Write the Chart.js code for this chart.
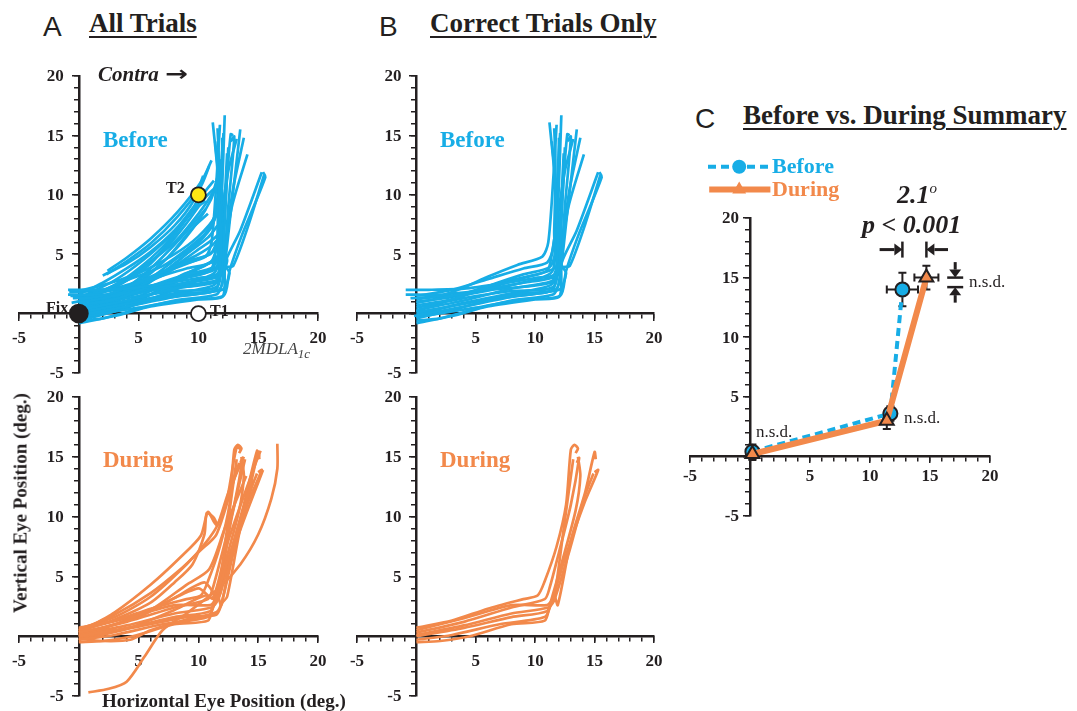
<!DOCTYPE html>
<html>
<head>
<meta charset="utf-8">
<script src="https://cdn.jsdelivr.net/npm/chart.js@4.4.1/dist/chart.umd.min.js"></script>
<style>
  html, body { margin: 0; padding: 0; background: #fff; }
  #fig { position: relative; width: 1077px; height: 711px; overflow: hidden; }
  canvas { position: absolute; }
  .t { position: absolute; white-space: nowrap; line-height: 1; color: #231f20;
       font-family: "Liberation Serif", "Times New Roman", serif; font-weight: bold; }
  .letter { font-family: "Liberation Sans", Arial, sans-serif; font-weight: normal; font-size: 28px; }
  .title { font-size: 27px; text-decoration: underline; text-decoration-thickness: 2px; text-underline-offset: 4px; }
  .blue { color: #17ade6; }
  .orange { color: #f2894b; }
  .nsd { font-weight: normal; font-size: 17px; }
</style>
</head>
<body>
<div id="fig">
  <canvas id="aTop"></canvas>
  <canvas id="aBot"></canvas>
  <canvas id="bTop"></canvas>
  <canvas id="bBot"></canvas>
  <canvas id="cSum"></canvas>

  <div class="t letter" style="left:43px;top:13px">A</div>
  <div class="t title" style="left:89px;top:10px">All Trials</div>
  <div class="t letter" style="left:379px;top:13px">B</div>
  <div class="t title" style="left:430px;top:10px">Correct Trials Only</div>
  <div class="t letter" style="left:695px;top:105px">C</div>
  <div class="t title" style="left:743px;top:102px">Before vs. During Summary</div>

  <div class="t" style="left:98px;top:64px;font-size:21px;font-style:italic">Contra <span style="font-family:'DejaVu Sans',sans-serif;font-style:normal;display:inline-block;transform:scaleX(1.3);margin-left:4px">→</span></div>
  <div class="t blue" style="left:103px;top:128px;font-size:23px">Before</div>
  <div class="t blue" style="left:440px;top:128px;font-size:23px">Before</div>
  <div class="t orange" style="left:103px;top:448px;font-size:23px">During</div>
  <div class="t orange" style="left:440px;top:448px;font-size:23px">During</div>
  <div class="t" style="left:166px;top:180px;font-size:16px">T2</div>
  <div class="t" style="left:210px;top:303px;font-size:16px">T1</div>
  <div class="t" style="left:46px;top:300px;font-size:16px">Fix</div>
  <div class="t" style="left:243px;top:340px;font-size:17px;font-weight:normal;font-style:italic;color:#444">2MDLA<sub style="font-size:13px">1c</sub></div>
  <div class="t" style="left:20px;top:503px;font-size:19px;transform:translate(-50%,-50%) rotate(-90deg)">Vertical Eye Position (deg.)</div>
  <div class="t" style="left:102px;top:691px;font-size:19px">Horizontal Eye Position (deg.)</div>

  <div class="t blue" style="left:772px;top:155px;font-size:22px">Before</div>
  <div class="t orange" style="left:772px;top:178px;font-size:22px">During</div>
  <div class="t" style="left:897px;top:181px;font-size:26px;font-style:italic">2.1<sup style="font-size:15px;font-weight:normal">o</sup></div>
  <div class="t" style="left:862px;top:212px;font-size:26px;font-style:italic">p &lt; 0.001</div>
  <div class="t nsd" style="left:969px;top:273px">n.s.d.</div>
  <div class="t nsd" style="left:904px;top:409px">n.s.d.</div>
  <div class="t nsd" style="left:756px;top:423px">n.s.d.</div>
</div>

<script>
// eye traces, [horizontal, vertical] in degrees

// before inactivation, correct trials (shown in A and B)
const beforeCorrect = [
  [[-0.9,2.0],[1,2.0],[4,2.1],[7,2.5],[10,3.0],[11.6,3.3],[11.9,6],[11.6,12],[11.2,16.1]],
  [[0,1.2],[2,1.5],[4,2.2],[6,3.1],[8.5,4.1],[10.6,4.8],[11.1,6.0],[11.5,11],[11.8,15.9]],
  [[0,0.7],[3,1.2],[6,2.3],[9,3.3],[11.2,3.9],[11.7,5.2],[12.0,11],[12.2,16.7]],
  [[0,0.3],[4,1.1],[8,2.1],[11.5,2.8],[12.0,4.2],[12.3,10],[12.7,15.1],[12.9,15.0]],
  [[-0.2,-0.2],[4,0.6],[8,1.4],[11.7,2.0],[12.1,3.2],[12.5,9],[13.0,14.9],[12.7,14.5]],
  [[0,-0.6],[2,-0.4],[5,0.4],[8,1.1],[11.5,1.6],[12.0,2.6],[12.7,8.5],[13.5,15.5]],
  [[0,0.9],[5,1.9],[9,2.6],[11.8,3.2],[12.1,5],[12.9,10.5],[13.8,14.8]],
  [[-0.9,1.6],[2,1.6],[6,2.0],[11.3,2.6],[11.9,3.7],[12.8,9],[14.1,13.4]],
  [[0,0.1],[5,1.0],[9,1.7],[12.0,2.0],[12.6,3.4],[12.2,4.2],[13.5,7],[15.3,11.9]],
  [[0,-0.3],[5,0.5],[9,1.2],[12.1,1.5],[12.6,3.6],[13.6,6.5],[15.6,11.5],[15.4,11.9]],
  [[0,0.5],[4,1.3],[8,1.9],[11.6,2.3],[11.8,6],[11.9,12],[12.1,15.2]],
  [[0,-0.8],[3,-0.2],[6,0.6],[10,1.2],[12.0,1.4],[12.2,3],[12.0,8],[11.4,14.5]],
  [[-0.5,1.3],[4,1.6],[8,2.4],[11.4,3.5],[11.6,7],[11.7,13],[11.6,15.6]],
  [[0,0.2],[4,1.5],[9,3.0],[11.0,3.6],[11.4,5],[12.5,12],[13.2,14.7]],
  [[0,1.0],[3,1.4],[7,2.6],[10.5,3.4],[11.8,4.0],[12.2,8],[12.5,14]],
  [[0,-0.4],[3,0.3],[7,1.3],[11.0,1.8],[11.6,2.2],[12.0,6],[12.4,13.5]],
  [[0,1.5],[3,2.0],[6,2.9],[9,3.8],[11.0,4.3],[11.5,5.5],[11.9,10],[12.0,14.8]],
  [[0,-0.1],[4,0.9],[8,1.7],[11.3,2.4],[12.3,3.9],[12.9,4.0],[14.2,7.5],[15.5,11.7]]
];

// before inactivation, error trials (A only)
const beforeError = [
  [[2.4,3.6],[4,4.7],[6,6.3],[8.3,8.6],[10.3,11.2],[11.1,12.9]],
  [[2.3,3.3],[4,4.4],[6,5.9],[8.2,8.1],[10.2,10.7],[10.9,12.4]],
  [[0,1.0],[3,2.4],[5,3.8],[7,5.6],[9,8.0],[10.5,10.2],[11.3,11.2]],
  [[0,0.8],[3,1.8],[6,3.5],[8,5.3],[10,7.8],[11.0,9.5],[11.5,10.8]],
  [[0,0.4],[3,1.4],[6,2.8],[8.5,4.6],[10.5,6.6],[11.5,8.5],[12,10.2]],
  [[-0.8,1.8],[2,2.0],[4,2.8],[7,4.0],[9.5,5.8],[11,7.2],[11.8,9]],
  [[0,0.6],[4,1.9],[7,3.2],[9,4.4],[11,5.0],[11.7,6.4]],
  [[0,0],[4,1.0],[7,2.4],[9.5,3.6],[11.4,4.6],[12.3,6]],
  [[0,1.2],[3,2.2],[6,4.2],[8,6.6],[9.5,8.6],[10.6,9.5]],
  [[0,0.2],[2,1.0],[5,2.6],[7.5,4.8],[9.5,7.2],[10.8,8.4]],
  [[0,-0.3],[4,0.8],[8,2.6],[10,3.8],[11.5,4.4],[12.2,3.6]],
  [[0,1.4],[4,2.4],[8,3.8],[10.5,4.8],[11.8,5.6]],
  [[0,0.1],[5,1.3],[9,2.5],[11.5,3.3],[12.3,4.0]],
  [[-0.7,1.5],[2,1.5],[5,2.0],[9,2.4],[11.8,2.8]],
  [[0,0.5],[3,1.6],[6,3.0],[8,4.5],[10,6.0],[11.2,7.5],[11.6,9.8],[11.8,13]],
  [[0,0.9],[4,2.8],[7,5.2],[9,7.6],[10.6,9.8],[11.4,10.6]],
  [[0,-0.5],[4,0.5],[8,2.0],[10.5,3.0],[12.0,3.4],[12.4,4.4],[12.3,5]],
  [[0,0.3],[4,1.7],[8,4.0],[10,5.4],[11.6,6.6],[12,8]],
  [[0,1.6],[2,2.6],[4,3.8],[6,5.2],[8,7.0],[9.6,9.0],[10.2,10.0]],
  [[0,1.1],[2,1.9],[4,3.0],[6,4.4],[8,6.0],[10,8.4],[11.2,10.2],[11.6,11.5]],
  [[0,0.2],[3,1.0],[5,2.0],[7,3.4],[9,5.0],[10.8,6.4],[11.6,7.4]],
  [[-0.6,0.9],[3,1.7],[6,3.0],[8,4.0],[10,5.0],[11.2,5.8],[12.1,6.8]],
  [[0,-0.6],[3,0.2],[6,1.6],[8.5,3.2],[10.5,4.0],[11.9,4.9]],
  [[0,0.6],[3,1.2],[6,2.0],[8,2.9],[10,3.4],[11.5,3.9],[12.4,4.6]],
  [[0,1.9],[2,2.4],[5,3.4],[8,5.0],[10,6.5],[11.4,8.2],[11.9,10.5]],
  [[0,0.3],[4,2.2],[6,3.8],[8,5.8],[9.6,7.6],[10.6,8.8]],
  [[2.0,3.2],[4,4.2],[6,5.6],[8,7.4],[9.6,9.5],[10.4,11.6]],
  [[0,1.3],[3,2.8],[5.5,4.6],[7.5,6.4],[9.2,8.2],[10.2,9.4]]
];

// during inactivation, correct trials (A and B)
const duringCorrect = [
  [[0,0.7],[3,1.3],[6,2.3],[9,3.1],[10.2,3.4],[10.8,4.6],[11.8,7.5],[12.6,11],[13.0,15.6],[13.3,16.0],[13.6,15.7],[13.4,15.3]],
  [[0,0.3],[4,1.2],[8,2.4],[10.8,3.1],[11.2,4],[12,7],[13,11],[13.7,14.9],[13.5,14.5]],
  [[0,0],[4,0.7],[8,1.6],[11,2.1],[11.6,3.4],[11.9,2.6],[13,8],[14.2,12],[15.0,15.4],[15.1,14.8]],
  [[0,-0.3],[3,0.1],[7,1.0],[10.8,1.6],[11.3,2.6],[12.5,6.5],[14.2,11.3],[15.3,13.9],[15.0,13.7]],
  [[0,-0.5],[2,-0.4],[4.5,0],[8,1.0],[10.8,1.3],[11.2,2.5],[12.2,6],[13.4,10.5],[13.8,13.4],[13.6,15]],
  [[0,0.5],[4,1.5],[8,2.6],[11,2.6],[11.5,3.2],[11.8,4.5],[12.4,9],[13.2,14.8]],
  [[0,0.1],[4,0.9],[8,1.9],[11.1,2.4],[11.6,3.0],[12.9,7.2],[14.1,11.5],[14.9,13.6]]
];

// during inactivation, error trials (A only)
const duringError = [
  [[0.8,-4.7],[2.5,-4.4],[4.0,-3.8],[5.5,-1.7],[7.0,0.5],[9,1.9],[11.8,4.1],[13.5,6],[15,8.5],[16.1,11.5],[16.6,14],[16.6,16.1]],
  [[0,0.3],[3,2.0],[6,4.3],[8.5,6.6],[10.2,8.4],[10.8,10.4],[11.5,9.3],[12.3,11],[13.2,15.8],[13.6,15.6]],
  [[0,0.6],[3,1.6],[6,3.3],[9,6.0],[10.6,7.8],[11.6,9.3],[12.5,12],[13.8,15]],
  [[0,0],[3,1.0],[6,2.2],[9,4.3],[10.9,5.6],[12.2,9],[14.0,13.4]],
  [[0,0.2],[4,1.3],[7,2.7],[10,4.0],[11.2,3.2],[12.5,8],[14.8,14.5],[15.2,15.5]],
  [[0,-0.2],[2,-0.4],[4.3,-0.3],[6,0.5],[9,1.4],[11.5,2.0],[12,3.0],[13.2,8],[15.4,13.9]],
  [[0,0.4],[3,1.4],[6,2.8],[8,4.5],[9.5,6],[10.5,8.5],[10.7,10.3],[11.3,9.9],[11.6,9.2]],
  [[0,0.1],[5,1.6],[8,3.2],[10.5,4.5],[11.5,3.5],[12.8,10],[13.9,14.8]],
  [[0,-0.1],[5,0.8],[9,1.6],[11.5,1.8],[12.0,2.8],[12.4,3.3],[13.5,9],[14.6,13]],
  [[0,0.5],[3,1.8],[6,3.6],[8.5,5.6],[10.2,7.2],[11.5,8.5],[12.8,12.5],[13.4,14.5]],
  [[0,-0.3],[4,0.6],[8,2.2],[10.6,3.4],[11.6,3.0],[12.3,5.5],[13.8,11],[14.9,15.5],[15.1,15.0]]
];

// fixation and target spots in panel A
const fixSpot = [[0, 0]];
const t1Spot = [[10, 0]];
const t2Spot = [[10, 10]];

// panel C summary: mean endpoints with SEM
const beforeMeanX = [0.2, 11.7, 12.7];
const beforeMeanY = [0.4, 3.6, 14.0];
const beforeErrX = [0.2, 0.3, 1.3];
const beforeErrY = [0.6, 0.6, 1.4];
const duringMeanX = [0.2, 11.4, 14.7];
const duringMeanY = [0.2, 3.0, 15.0];
const duringErrX = [0.2, 0.3, 1.0];
const duringErrY = [0.5, 0.7, 1.0];

const INK = "#231f20";
const BLUE = "#17ade6";
const ORANGE = "#f2894b";
const SERIF = '"Liberation Serif", "Times New Roman", serif';

// ── shared cross-shaped axes ─────────────────────────────────────────

function crossAxes(xPad) {
  const fit = (s) => { if (s.isHorizontal()) s.height = 0; else s.width = 0; };
  const font = { family: SERIF, weight: "bold", size: 17 };
  const minor = (axis, pos) => ({
    type: "linear", axis, min: -5, max: 20, position: pos, afterFit: fit,
    ticks: { stepSize: 1, display: false },
    grid: { drawOnChartArea: false, tickLength: 4, color: INK, lineWidth: 1.5 },
    border: { display: true, color: INK, width: 2.5 },
  });
  const major = (axis, pos, showLabels) => ({
    type: "linear", axis, min: -5, max: 20, position: pos, afterFit: fit,
    ticks: {
      stepSize: 5, display: showLabels, color: INK, font, padding: xPad,
      callback: (v) => (v === 0 ? "" : v),
    },
    grid: { drawOnChartArea: false, tickLength: 7, color: INK, lineWidth: 1.5 },
    border: { display: false },
  });
  return {
    x: minor("x", { y: 0 }),
    y: minor("y", { x: 0 }),
    xMaj: major("x", { y: 0 }, true),
    // y labels are drawn by yTickLabels: Chart.js puts them on the axis line itself
    yMaj: major("y", { x: 0 }, false),
  };
}

const yTickLabels = {
  id: "yTickLabels",
  afterDraw(chart, args, opts) {
    const { ctx, scales } = chart;
    const axisX = scales.x.getPixelForValue(0);
    ctx.save();
    ctx.font = `bold 17px ${SERIF}`;
    ctx.fillStyle = INK;
    ctx.textAlign = "right";
    ctx.textBaseline = "middle";
    scales.yMaj.ticks.forEach((t) => {
      if (t.value === 0) return;
      ctx.fillText(String(t.value), axisX - opts.gap, scales.yMaj.getPixelForValue(t.value) + 1);
    });
    ctx.restore();
  },
};

function traceSets(list, color) {
  return list.map((pts) => ({
    data: pts,
    showLine: true,
    borderColor: color,
    borderWidth: 2.7,
    pointRadius: 0,
    tension: 0.25,
    fill: false,
  }));
}

function spot(pts, fillColor, r) {
  return {
    data: pts, showLine: false, pointRadius: r, pointBackgroundColor: fillColor,
    pointBorderColor: INK, pointBorderWidth: 1.8, order: -1,
  };
}

// place canvas so the plot area lands on the figure's axes box
function makePanel(id, box, pad, look, datasets, plugins) {
  const cv = document.getElementById(id);
  const w = box.R - box.L + pad.left + pad.right;
  const h = box.B - box.T + pad.top + pad.bottom;
  cv.width = w;
  cv.height = h;
  cv.style.left = box.L - pad.left + "px";
  cv.style.top = box.T - pad.top + "px";
  return new Chart(cv, {
    type: "scatter",
    data: { datasets },
    options: {
      responsive: false,
      animation: false,
      events: [],
      layout: { padding: pad },
      plugins: { legend: { display: false }, tooltip: { enabled: false }, yTickLabels: { gap: look.yGap } },
      scales: crossAxes(look.xPad),
    },
    plugins: [yTickLabels, ...(plugins || [])],
  });
}

const PAD = { left: 18, right: 18, top: 18, bottom: 18 };
const LOOK_AB = { xPad: 8, yGap: 15 };

makePanel("aTop", { L: 19, R: 318, T: 76, B: 373 }, PAD, LOOK_AB, [
  ...traceSets(beforeCorrect, BLUE),
  ...traceSets(beforeError, BLUE),
  spot(fixSpot, INK, 9),
  spot(t1Spot, "#ffffff", 7.5),
  spot(t2Spot, "#ffe714", 7.5),
]);
makePanel("aBot", { L: 19, R: 318, T: 397, B: 696 }, PAD, LOOK_AB, [
  ...traceSets(duringCorrect, ORANGE),
  ...traceSets(duringError, ORANGE),
]);
makePanel("bTop", { L: 357, R: 654, T: 76, B: 373 }, PAD, LOOK_AB, traceSets(beforeCorrect, BLUE));
makePanel("bBot", { L: 357, R: 654, T: 397, B: 696 }, PAD, LOOK_AB, traceSets(duringCorrect, ORANGE));

// ── panel C: error bars, arrows, legend samples ──────────────────────

function arrowWithBar(ctx, x1, y1, x2, y2) {
  const ang = Math.atan2(y2 - y1, x2 - x1);
  const head = 8;
  const hx = x2 - head * Math.cos(ang), hy = y2 - head * Math.sin(ang);
  ctx.save();
  ctx.strokeStyle = INK;
  ctx.fillStyle = INK;
  ctx.lineWidth = 3;
  ctx.beginPath();
  ctx.moveTo(x1, y1);
  ctx.lineTo(hx, hy);
  ctx.stroke();
  const nx = -Math.sin(ang), ny = Math.cos(ang);
  ctx.beginPath();
  ctx.moveTo(x2, y2);
  ctx.lineTo(hx + nx * 6, hy + ny * 6);
  ctx.lineTo(hx - nx * 6, hy - ny * 6);
  ctx.closePath();
  ctx.fill();
  ctx.lineWidth = 2.5;
  ctx.beginPath();
  ctx.moveTo(x2 + nx * 8, y2 + ny * 8);
  ctx.lineTo(x2 - nx * 8, y2 - ny * 8);
  ctx.stroke();
  ctx.restore();
}

const summaryExtras = {
  id: "summaryExtras",
  beforeDatasetsDraw(chart) {
    const { ctx, scales } = chart;
    const { x, y } = scales;
    ctx.save();
    ctx.strokeStyle = INK;
    ctx.lineWidth = 2;
    chart.data.datasets.forEach((ds) => {
      if (!ds.errX) return;
      ds.data.forEach(([mx, my], i) => {
        const px = x.getPixelForValue(mx), py = y.getPixelForValue(my);
        const x0 = x.getPixelForValue(mx - ds.errX[i]), x1 = x.getPixelForValue(mx + ds.errX[i]);
        const y0 = y.getPixelForValue(my - ds.errY[i]), y1 = y.getPixelForValue(my + ds.errY[i]);
        ctx.beginPath();
        ctx.moveTo(x0, py); ctx.lineTo(x1, py);
        ctx.moveTo(x0, py - 4); ctx.lineTo(x0, py + 4);
        ctx.moveTo(x1, py - 4); ctx.lineTo(x1, py + 4);
        ctx.moveTo(px, y0); ctx.lineTo(px, y1);
        ctx.moveTo(px - 4, y0); ctx.lineTo(px + 4, y0);
        ctx.moveTo(px - 4, y1); ctx.lineTo(px + 4, y1);
        ctx.stroke();
      });
    });
    ctx.restore();
  },
  afterDatasetsDraw(chart) {
    const { ctx, scales } = chart;
    const X = (v) => scales.x.getPixelForValue(v);
    const Y = (v) => scales.y.getPixelForValue(v);
    // horizontal shift arrows and vertical n.s.d. arrows
    arrowWithBar(ctx, X(10.8), Y(17.35), X(beforeMeanX[2]), Y(17.35));
    arrowWithBar(ctx, X(16.5), Y(17.35), X(duringMeanX[2]), Y(17.35));
    arrowWithBar(ctx, X(17.1), Y(16.3), X(17.1), Y(duringMeanY[2]));
    arrowWithBar(ctx, X(17.1), Y(12.9), X(17.1), Y(beforeMeanY[2] + 0.2));

    // legend samples
    ctx.save();
    ctx.strokeStyle = BLUE;
    ctx.lineWidth = 4;
    ctx.setLineDash([8, 5]);
    ctx.beginPath();
    ctx.moveTo(X(-3.5), Y(24.3));
    ctx.lineTo(X(1.7), Y(24.3));
    ctx.stroke();
    ctx.setLineDash([]);
    ctx.strokeStyle = ORANGE;
    ctx.lineWidth = 6;
    ctx.beginPath();
    ctx.moveTo(X(-3.4), Y(22.4));
    ctx.lineTo(X(1.7), Y(22.4));
    ctx.stroke();
    ctx.strokeStyle = INK;
    ctx.lineWidth = 2;
    ctx.fillStyle = BLUE;
    Chart.helpers.drawPoint(ctx, { pointStyle: "circle", radius: 7, rotation: 0 }, X(-0.9), Y(24.3));
    ctx.fillStyle = ORANGE;
    Chart.helpers.drawPoint(ctx, { pointStyle: "triangle", radius: 8, rotation: 0 }, X(-0.9), Y(22.4));
    ctx.restore();
  },
};

const zipXY = (xs, ys) => xs.map((v, i) => [v, ys[i]]);

makePanel("cSum", { L: 690, R: 990, T: 218, B: 516 }, { left: 18, right: 18, top: 78, bottom: 18 }, { xPad: 3, yGap: 11 }, [
  {
    label: "During",
    data: zipXY(duringMeanX, duringMeanY),
    errX: duringErrX,
    errY: duringErrY,
    showLine: true,
    borderColor: ORANGE,
    borderWidth: 6,
    pointStyle: "triangle",
    pointRadius: 8,
    pointBackgroundColor: ORANGE,
    pointBorderColor: INK,
    pointBorderWidth: 2,
    order: 0,
  },
  {
    label: "Before",
    data: zipXY(beforeMeanX, beforeMeanY),
    errX: beforeErrX,
    errY: beforeErrY,
    showLine: true,
    borderColor: BLUE,
    borderWidth: 4,
    borderDash: [8, 5],
    pointStyle: "circle",
    pointRadius: 7,
    pointBackgroundColor: BLUE,
    pointBorderColor: INK,
    pointBorderWidth: 2,
    order: 1,
  },
], [summaryExtras]);
</script>
</body>
</html>
